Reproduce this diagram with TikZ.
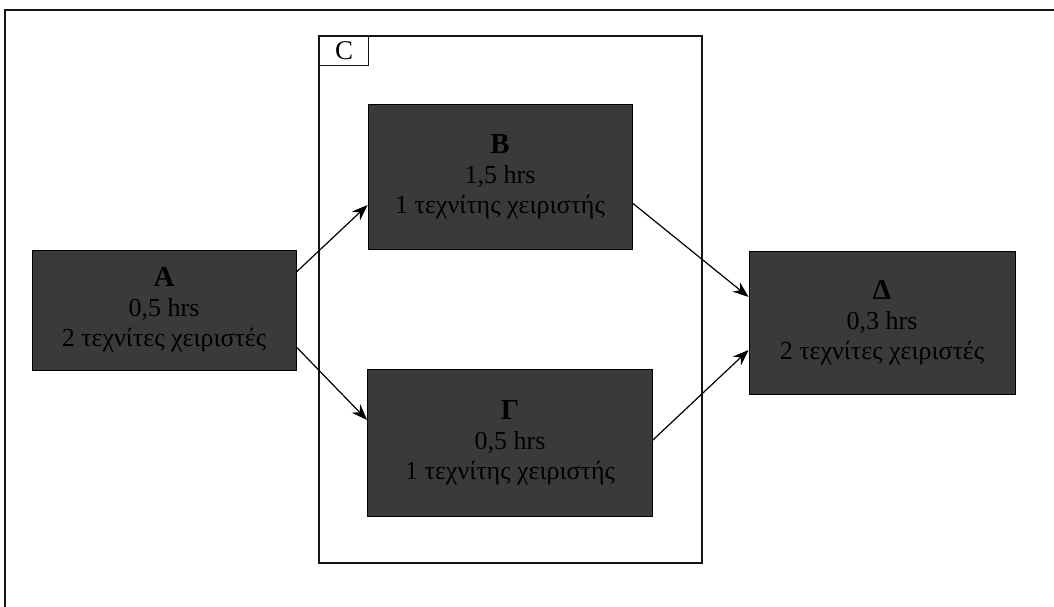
\documentclass[tikz,border=0pt]{standalone}
\usepackage{fontspec}
\setmainfont{Liberation Serif}
\usepackage{tikz}
\usetikzlibrary{arrows.meta, positioning, calc}
\definecolor{boxgrey}{RGB}{58,58,58}
\definecolor{framedark}{RGB}{20,20,20}
\tikzset{
  task/.style={rectangle, draw=black, fill=boxgrey, text=black,
    align=center, inner sep=0pt, line width=0.8pt,
    font=\fontsize{26}{30}\selectfont},
  tag/.style={rectangle, draw=framedark, fill=white, inner sep=0pt,
    minimum width=49pt, minimum height=29pt, line width=1.2pt,
    font=\fontsize{27}{30}\selectfont},
  arrow/.style={-{Stealth[length=16pt,width=12pt]}, line width=1.2pt, color=black},
  frame/.style={line width=1.3pt, color=framedark}
}

\begin{document}
\begin{tikzpicture}[x=1pt, y=-1pt]
  \useasboundingbox (0,0) rectangle (1054,607);
  % outer frame (cut at right and bottom)
  \draw[frame] (5,607) -- (5,10) -- (1054,10);
  % group C
  \draw[frame] (319,36) rectangle (702,563);
  \node[tag, anchor=north west] (cTag) at (319,36) {C};

  % tasks
  \node[task, minimum width=264pt, minimum height=120pt] (A) at (164,310)
    {\textbf{\fontsize{29}{30}\selectfont Α}\\0,5 hrs\\2 τεχνίτες χειριστές};
  \node[task, minimum width=264pt, minimum height=145pt] (B) at (500,177)
    {\textbf{\fontsize{29}{30}\selectfont Β}\\1,5 hrs\\1 τεχνίτης χειριστής};
  \node[task, minimum width=285pt, minimum height=147pt] (G) at (510,443)
    {\textbf{\fontsize{29}{30}\selectfont Γ}\\0,5 hrs\\1 τεχνίτης χειριστής};
  \node[task, minimum width=266pt, minimum height=143pt] (D) at (882,323)
    {\textbf{\fontsize{29}{30}\selectfont Δ}\\0,3 hrs\\2 τεχνίτες χειριστές};

  % precedence
  \draw[arrow] ([yshift=38pt]A.east) -- ([yshift=-28pt]B.west);
  \draw[arrow] ([yshift=-37pt]A.east) -- ([yshift=23pt]G.west);
  \draw[arrow] ([yshift=-26pt]B.east) -- ([yshift=26pt]D.west);
  \draw[arrow] ([yshift=3pt]G.east) -- ([yshift=-27pt]D.west);
\end{tikzpicture}
\end{document}
